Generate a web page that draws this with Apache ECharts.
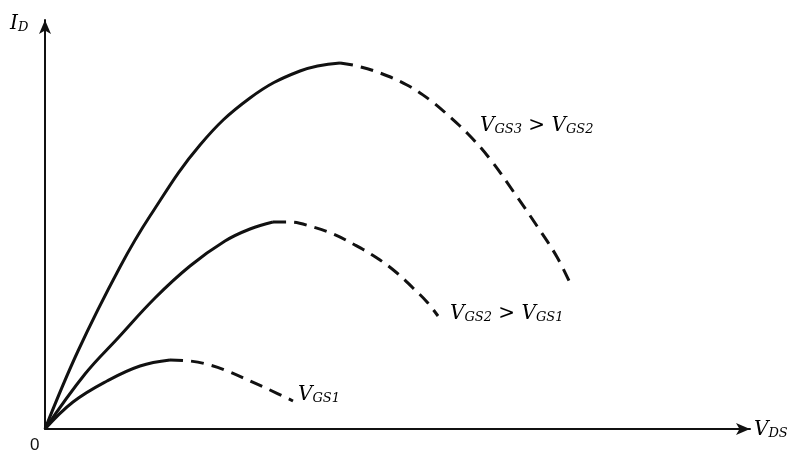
<!DOCTYPE html>
<html><head><meta charset="utf-8">
<script src="https://cdn.jsdelivr.net/npm/echarts@6/dist/echarts.min.js"></script>
<style>html,body{margin:0;padding:0;background:#fff}#c{width:805px;height:456px}</style>
</head><body><div id="c"></div>
<script>
// values in arbitrary units (V_DS, I_D)
const vgs3Solid = [[0,0],[33,78],[75,162],[105,213],[155,284],[205,331],[255,358],[295,366]];
const vgs3Dash  = [[295,366],[312,363],[335,356],[362,344],[385,329],[405,312],[425,293],[445,270],[468,238],[492,203],[512,172],[525,146]];
const vgs2Solid = [[0,0],[40,55],[73,91],[110,131],[145,163],[180,188],[205,200],[228,207]];
const vgs2Dash  = [[228,207],[245,207],[268,202],[288,195],[310,184],[332,171],[352,156],[368,141],[382,127],[393,113]];
const vgs1Solid = [[0,0],[28,27],[62,48],[95,63],[125,69]];
const vgs1Dash  = [[125,69],[145,68],[165,64],[185,57],[205,48],[225,39],[248,28]];
const xMax = 705, yMax = 409;

const chart = echarts.init(document.getElementById('c'));
const solid = {type:'solid', width:3, color:'#111'};
const dash = {type:[13,8], width:3, color:'#111'};
function s(data, ls){return {type:'line', data, smooth:0.4, symbol:'none', lineStyle:ls, silent:true};}
const serif = '"DejaVu Serif", "Liberation Serif", serif';
const rich = {v:{fontFamily:serif, fontStyle:'italic', fontSize:20, color:'#111'},
  sub:{fontFamily:serif, fontStyle:'italic', fontSize:13, color:'#111', verticalAlign:'bottom', padding:[8,0,0,0]},
  gt:{fontFamily:serif, fontSize:20, color:'#111'}};
function lab(x,y,text){return {type:'text', left:x, top:y, style:{text, rich}};}
chart.setOption({
  animation:false,
  grid:{left:45, right:55, top:20, bottom:27},
  xAxis:{type:'value', min:0, max:xMax, axisLine:{lineStyle:{color:'#111', width:2}, symbol:['none','arrow'], symbolSize:[9,14]}, axisTick:{show:false}, axisLabel:{show:false}, splitLine:{show:false}},
  yAxis:{type:'value', min:0, max:yMax, axisLine:{show:true, lineStyle:{color:'#111', width:2}, symbol:['none','arrow'], symbolSize:[9,14]}, axisTick:{show:false}, axisLabel:{show:false}, splitLine:{show:false}},
  series:[s(vgs3Solid,solid), s(vgs3Dash,dash), s(vgs2Solid,solid), s(vgs2Dash,dash), s(vgs1Solid,solid), s(vgs1Dash,dash)],
  graphic:[
    lab(10,14,'{v|I}{sub|D}'),
    lab(754,420,'{v|V}{sub|DS}'),
    {type:'text', left:30, top:437, style:{text:'0', font:'17px "Liberation Sans", Arial, sans-serif', fill:'#111'}},
    lab(480,116,'{v|V}{sub|GS3}{gt| > }{v|V}{sub|GS2}'),
    lab(450,304,'{v|V}{sub|GS2}{gt| > }{v|V}{sub|GS1}'),
    lab(298,385,'{v|V}{sub|GS1}')
  ]
});
</script></body></html>
